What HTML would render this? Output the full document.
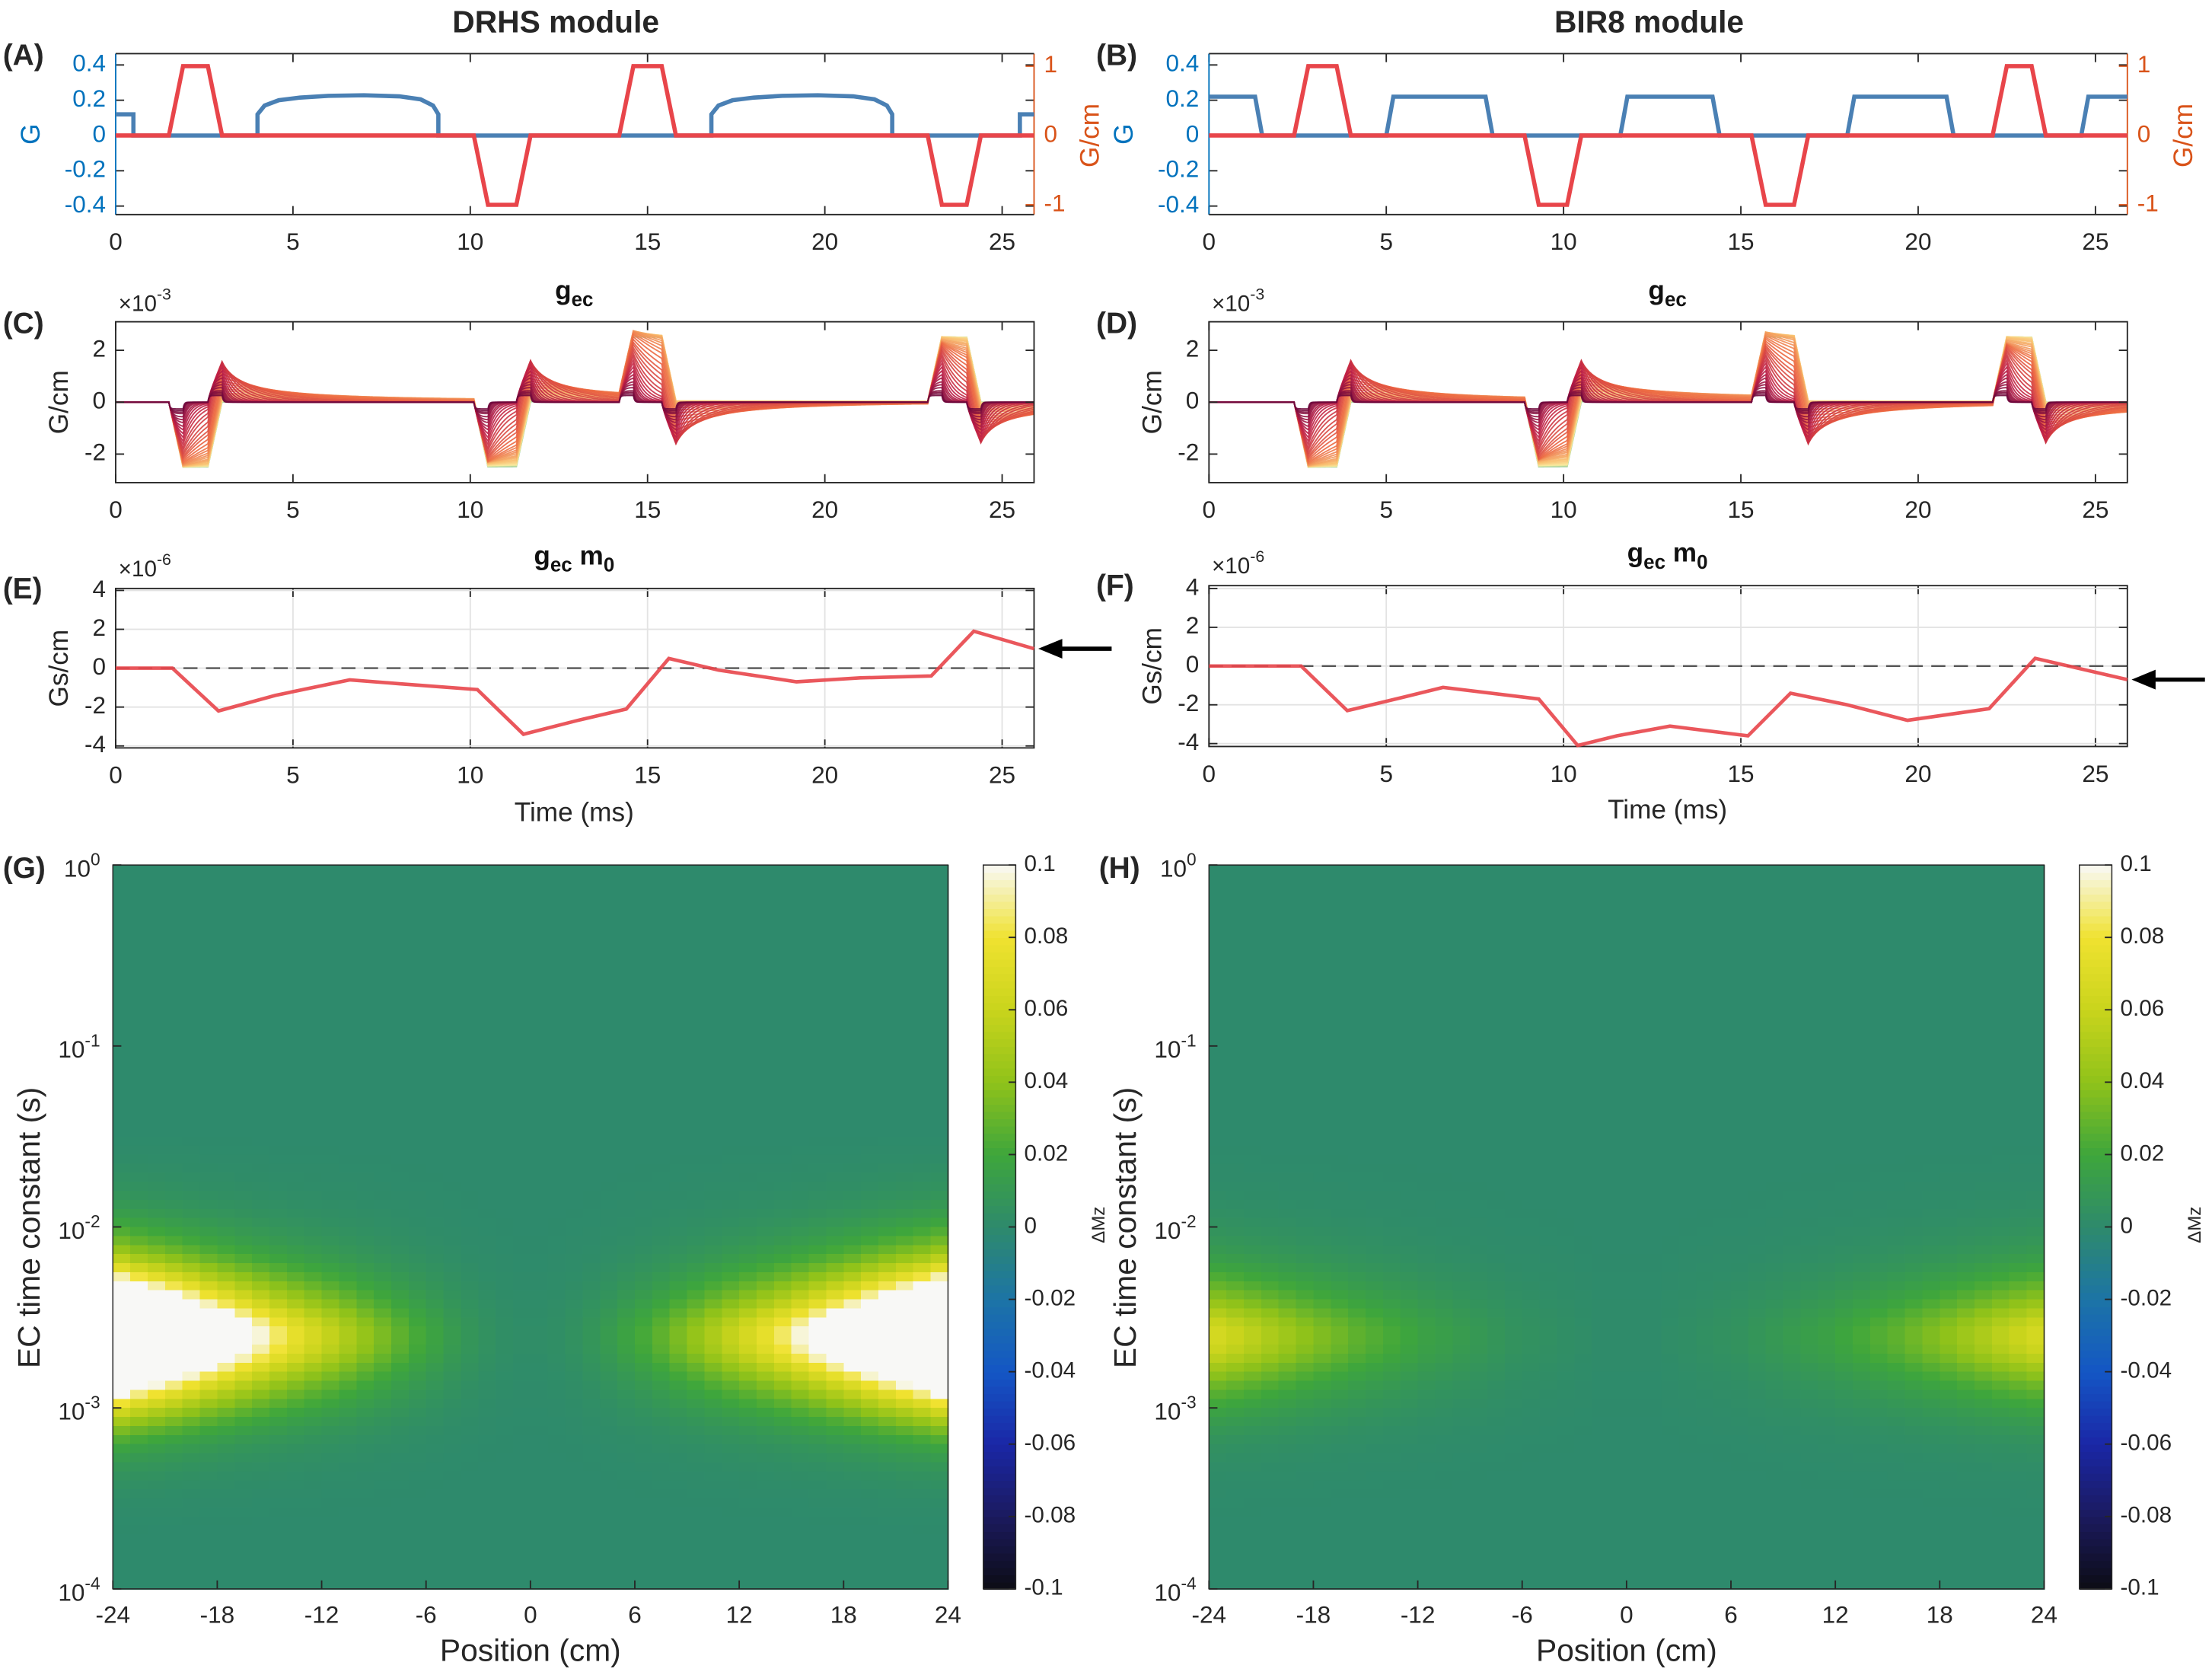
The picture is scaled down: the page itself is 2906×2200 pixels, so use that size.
<!DOCTYPE html>
<html><head><meta charset="utf-8"><style>
html,body{margin:0;padding:0;background:#fff;}
svg{display:block;font-family:"Liberation Sans",sans-serif;}
</style></head><body>
<svg id="fig" width="2906" height="2200" viewBox="0 0 1568 1187" xmlns="http://www.w3.org/2000/svg">
<rect x="0" y="0" width="1568" height="1187" fill="#fff"/>
</svg>
<script>
// ---------- data ----------
const xTicksTime = [0,5,10,15,20,25];
// Panel A waveforms (time ms, value)
const aBlueT = [0,0.5,0.5,4.0,4.0,4.2,4.6,5.2,6.0,7.0,8.0,8.6,8.95,9.1,9.1,16.8,16.8,17.0,17.4,18.0,18.8,19.8,20.8,21.4,21.75,21.9,21.9,25.5,25.5,25.9];
const aBlueV = [0.12,0.12,0,0,0.12,0.17,0.2,0.215,0.225,0.228,0.222,0.205,0.17,0.12,0,0,0.12,0.17,0.2,0.215,0.225,0.228,0.222,0.205,0.17,0.12,0,0,0.12,0.12];
const aRedT = [0,1.5,1.9,2.6,3.0,10.1,10.5,11.3,11.7,14.2,14.6,15.4,15.8,22.9,23.3,24.0,24.4,25.9];
const aRedV = [0,0,1,1,0,0,-1,-1,0,0,1,1,0,0,-1,-1,0,0];
// driving pattern for eddy currents in panel C
const cDriveV = [0,0,1,1,0,0,1,1,0,0,-1,-1,0,0,-1,-1,0,0];
// Panel B waveforms
const bBlueT = [0,1.3,1.5,5.0,5.2,7.8,8.0,11.6,11.8,14.2,14.4,18.0,18.2,20.8,21.0,24.6,24.8,25.9];
const bBlueV = [0.22,0.22,0,0,0.22,0.22,0,0,0.22,0.22,0,0,0.22,0.22,0,0,0.22,0.22];
const bRedT = [0,2.4,2.8,3.6,4.0,8.9,9.3,10.1,10.5,15.3,15.7,16.5,16.9,22.1,22.5,23.2,23.6,25.9];
const bRedV = [0,0,1,1,0,0,-1,-1,0,0,-1,-1,0,0,1,1,0,0];
const dDriveV = [0,0,1,1,0,0,1,1,0,0,-1,-1,0,0,-1,-1,0,0];
// eddy current time constants (ms) for bundles C/D
const ecTau = [0.03,0.04,0.05,0.06,0.08,0.1,0.12,0.15,0.18,0.22,0.27,0.33,0.4,0.5,0.6,0.75,0.9,1.1,1.3,1.6,2,2.5,3,3.7,4.5,5.5,7,8.5,10,13,16,20,25,32,40,55,70,100,150,300];
const ecAmp = 2.5; // x1e-3 G/cm per unit gradient
// Panel E / F (x1e-6 Gs/cm)
const eT = [0,1.6,2.9,4.5,6.6,8.0,10.2,11.5,13.0,14.4,15.6,17.0,19.2,21.0,23.0,24.2,25.9];
const eV = [0,0,-2.2,-1.4,-0.6,-0.8,-1.1,-3.4,-2.7,-2.1,0.5,-0.1,-0.7,-0.5,-0.4,1.9,1.0];
const fT = [0,2.6,3.9,5.5,6.6,9.3,10.4,11.5,13.0,15.2,16.4,18.0,19.7,22.0,23.3,25.9];
const fV = [0,0,-2.3,-1.6,-1.1,-1.7,-4.1,-3.6,-3.1,-3.6,-1.4,-2.0,-2.8,-2.2,0.4,-0.7];
// Heatmaps
const posTicks = [-24,-18,-12,-6,0,6,12,18,24];
const cbTicks = [0.1,0.08,0.06,0.04,0.02,0,-0.02,-0.04,-0.06,-0.08,-0.1];
// tau-profile at log10 centres -0.025 ... -3.975 (0.05 decade)
const tauProfile = [0,0,0,0,0,0,0,0,0,0,0,0,0,0,0,0,0,0,0,0,0,0,0,0,0,0,0,0,0,0,
 0.002,0.004,0.007,0.011,0.016,0.022,0.03,0.04,0.055,0.075,0.1,0.13,0.17,0.22,0.29,0.37,0.46,0.56,0.67,0.8,0.92,1.0,1.0,0.95,0.85,0.72,0.6,0.49,0.4,0.32,0.25,0.19,0.14,0.1,0.07,0.05,0.035,0.024,0.016,0.01,0.006,0.004,0.002,0.001,0,0,0,0,0,0];
// position-profile at |x| = 0.5 ... 23.5 cm
const posProfileG = [0.002,0.003,0.005,0.008,0.012,0.017,0.022,0.028,0.035,0.042,0.05,0.058,0.066,0.075,0.085,0.097,0.11,0.125,0.14,0.16,0.18,0.2,0.22,0.25];
const posProfileH = [0.001,0.001,0.002,0.003,0.004,0.005,0.006,0.008,0.01,0.012,0.014,0.016,0.019,0.022,0.025,0.028,0.032,0.036,0.04,0.045,0.05,0.055,0.06,0.065];
const cmapVals = [-0.1,-0.08,-0.06,-0.04,-0.02,0,0.02,0.04,0.06,0.08,0.1];
const cmapCols = ['#0c0c14','#1b1a5e','#1a27a6','#1456c4','#1c74a6','#2e8a6c','#3ea63c','#8fc21a','#c9d41c','#f0e230','#f8f8f6'];

// ---------- helpers ----------
const NS='http://www.w3.org/2000/svg';
const svg=document.getElementById('fig');
function el(tag,attrs,parent){const e=document.createElementNS(NS,tag);for(const k in attrs)e.setAttribute(k,attrs[k]);(parent||svg).appendChild(e);return e;}
function nm(e,name){


return e;}
function txt(x,y,s,o,name){o=o||{};const t=el('text',{x:x,y:y,'font-size':o.size||16,'text-anchor':o.anchor||'middle',fill:o.fill||'#262626','font-weight':o.weight||'normal'});
if(o.rot)t.setAttribute('transform','rotate('+o.rot+' '+x+' '+y+')');
if(o.db)t.setAttribute('dominant-baseline',o.db);
t.textContent=s;return nm(t,name);}
function supTxt(x,y,base,sup,o,name){o=o||{};const t=el('text',{x:x,y:y,'font-size':o.size||16,'text-anchor':o.anchor||'end',fill:'#262626','dominant-baseline':'middle'});
const a=el('tspan',{},t);a.textContent=base;const b=el('tspan',{dy:-7,'font-size':(o.size||16)*0.72},t);b.textContent=sup;return nm(t,name);}
function lin(d0,d1,p0,p1){return v=>p0+(v-d0)/(d1-d0)*(p1-p0);}
function interp(T,V,t){for(let i=1;i<T.length;i++){if(t<=T[i]){const d=T[i]-T[i-1];return d<=0?V[i]:V[i-1]+(V[i]-V[i-1])*(t-T[i-1])/d;}}return V[V.length-1];}

function axesBox(p,prefix){
  const g=nm(el('g',{}),prefix+'-axes');
  nm(el('rect',{x:p.x0,y:p.y0,width:p.x1-p.x0,height:p.y1-p.y0,fill:'none',stroke:'#262626','stroke-width':1},g),prefix+'-box');
  return g;
}
function xTicks(p,X,ticks,prefix,grid){
  ticks.forEach(v=>{const x=X(v);
    if(grid) nm(el('line',{x1:x,x2:x,y1:p.y0,y2:p.y1,stroke:'#e3e3e3','stroke-width':1}),prefix+'-xgrid');
    nm(el('line',{x1:x,x2:x,y1:p.y1,y2:p.y1-6,stroke:'#262626'}),prefix+'-xtick');
    nm(el('line',{x1:x,x2:x,y1:p.y0,y2:p.y0+6,stroke:'#262626'}),prefix+'-xtick-top');
    txt(x,p.y1+25,String(v),{size:17},prefix+'-xtick-label');});
}
function yTicks(p,Y,ticks,prefix,color,grid,right){
  ticks.forEach(v=>{const y=Y(v);
    if(grid) nm(el('line',{x1:p.x0,x2:p.x1,y1:y,y2:y,stroke:'#e3e3e3','stroke-width':1}),prefix+'-ygrid');
    if(!right){
      nm(el('line',{x1:p.x0,x2:p.x0+6,y1:y,y2:y,stroke:'#262626'}),prefix+'-ytick');
      nm(el('line',{x1:p.x1,x2:p.x1-6,y1:y,y2:y,stroke:'#262626'}),prefix+'-ytick-right');
      txt(p.x0-7,y,String(v),{size:17,anchor:'end',db:'middle',fill:color},prefix+'-ytick-label');
    } else {
      nm(el('line',{x1:p.x1,x2:p.x1-6,y1:y,y2:y,stroke:'#d95319'}),prefix+'-ytick');
      txt(p.x1+7,y,String(v),{size:17,anchor:'start',db:'middle',fill:color},prefix+'-ytick-label');
    }});
}
function polyline(T,V,X,Y,attrs,name){const pts=T.map((t,i)=>X(t).toFixed(2)+','+Y(V[i]).toFixed(2)).join(' ');
  const a=Object.assign({points:pts,fill:'none'},attrs);return nm(el('polyline',a),name);}

// ---------- Top waveform panels ----------
function waveformPanel(x0,label,title,blueT,blueV,redT,redV,prefix){
  const p={x0:x0,x1:x0+651,y0:38,y1:152};
  const X=lin(0,25.9,p.x0,p.x1), Y=lin(-0.448,0.464,p.y1,p.y0), YR=lin(-1.14,1.18,p.y1,p.y0);
  nm(el('rect',{x:p.x0,y:p.y0,width:651,height:114,fill:'#fff'}),prefix+'-plot-area');
  xTicks(p,X,xTicksTime,prefix,false);
  yTicks(p,Y,[0.4,0.2,0,-0.2,-0.4],prefix,'#0072bd',false,false);
  yTicks(p,YR,[1,0,-1],prefix+'-right','#d95319',false,true);
  nm(el('line',{x1:p.x0,x2:p.x0,y1:p.y0,y2:p.y1,stroke:'#0072bd'}),prefix+'-left-axis');
  nm(el('line',{x1:p.x1,x2:p.x1,y1:p.y0,y2:p.y1,stroke:'#d95319'}),prefix+'-right-axis');
  nm(el('line',{x1:p.x0,x2:p.x1,y1:p.y0,y2:p.y0,stroke:'#262626'}),prefix+'-top-axis');
  nm(el('line',{x1:p.x0,x2:p.x1,y1:p.y1,y2:p.y1,stroke:'#262626'}),prefix+'-bottom-axis');
  polyline(blueT,blueV,X,Y,{stroke:'#4a80b4','stroke-width':3},prefix+'-blue-gradient-line');
  polyline(redT,redV,X,YR,{stroke:'#e8454a','stroke-width':3},prefix+'-red-gradient-line');
  txt(x0-54,p.y0+57,'G',{size:19,fill:'#0072bd',rot:-90},prefix+'-y-axis-title');
  txt(p.x1+46,96,'G/cm',{size:19,fill:'#d95319',rot:-90},prefix+'-y-axis-title-right');
  txt(x0-80,46,label,{size:21,weight:'bold',anchor:'start'},prefix+'-panel-label');
  txt(x0+312,23,title,{size:22,weight:'bold'},prefix+'-title');
}
waveformPanel(82,'(A)','DRHS module',aBlueT,aBlueV,aRedT,aRedV,'panel-a');
waveformPanel(857,'(B)','BIR8 module',bBlueT,bBlueV,bRedT,bRedV,'panel-b');

// ---------- eddy current bundles ----------
function tauColor(i,n){const stops=[[0,[110,8,60]],[0.25,[190,30,70]],[0.5,[235,100,65]],[0.75,[248,190,110]],[0.9,[248,235,160]],[1,[140,200,150]]];
  const f=i/(n-1);for(let k=1;k<stops.length;k++){if(f<=stops[k][0]){const a=stops[k-1],b=stops[k];const u=(f-a[0])/(b[0]-a[0]);
  return 'rgb('+a[1].map((c,j)=>Math.round(c+(b[1][j]-c)*u)).join(',')+')';}}return 'rgb(140,200,150)';}
function ecPanel(x0,label,driveT,driveV,prefix){
  const p={x0:x0,x1:x0+651,y0:228,y1:342};
  const X=lin(0,25.9,p.x0,p.x1), Y=lin(-3.1,3.1,p.y1,p.y0);
  const g=nm(el('g',{}),prefix+'-curves');
  const dt=0.02;
  for(let k=ecTau.length-1;k>=0;k--){
    const tau=ecTau[k];let y=0,prev=interp(driveT,driveV,0);const T=[],V=[];
    for(let t=0;t<=25.9+1e-9;t+=dt){const G=interp(driveT,driveV,t);y=y*Math.exp(-dt/tau)+(G-prev);prev=G;T.push(t);V.push(-ecAmp*y);}
    const pl=polyline(T,V,X,Y,{stroke:tauColor(k,ecTau.length),'stroke-width':1,'stroke-opacity':0.9},prefix+'-ec-curve');
    g.appendChild(pl);
  }
  axesBox(p,prefix);
  xTicks(p,X,xTicksTime,prefix,false);
  yTicks(p,Y,[2,0,-2],prefix,'#262626',false,false);
  txt(x0-34,285,'G/cm',{size:19,rot:-90},prefix+'-y-axis-title');
  supTxt(x0+2,216,'\u00d710','-3',{size:16,anchor:'start'},prefix+'-exponent');
  const t=el('text',{x:x0+325,y:212,'font-size':19,'font-weight':'bold','text-anchor':'middle',fill:'#111'});
  const a=el('tspan',{},t);a.textContent='g';const b=el('tspan',{dy:5,'font-size':14},t);b.textContent='ec';nm(t,prefix+'-title');
  txt(x0-80,236,label,{size:21,weight:'bold',anchor:'start'},prefix+'-panel-label');
}
ecPanel(82,'(C)',aRedT,cDriveV,'panel-c');
ecPanel(857,'(D)',bRedT,dDriveV,'panel-d');

// ---------- gec m0 ----------
function m0Panel(x0,y0,y1,ym,label,T,V,prefix,titleX,timeY){
  const p={x0:x0,x1:x0+651,y0:y0,y1:y1};
  const X=lin(0,25.9,p.x0,p.x1), Y=lin(-ym,ym,p.y1,p.y0);
  xTicks(p,X,xTicksTime,prefix,true);
  yTicks(p,Y,[4,2,0,-2,-4],prefix,'#262626',true,false);
  axesBox(p,prefix);
  nm(el('line',{x1:p.x0,x2:p.x1,y1:Y(0),y2:Y(0),stroke:'#555','stroke-width':1.3,'stroke-dasharray':'10,6'}),prefix+'-zero-dashed-line');
  polyline(T,V,X,Y,{stroke:'#e8454a','stroke-width':2.5,'stroke-opacity':0.9},prefix+'-gec-m0-line');
  txt(x0-34,(y0+y1)/2,'Gs/cm',{size:19,rot:-90},prefix+'-y-axis-title');
  supTxt(x0+2,y0-13,'\u00d710','-6',{size:16,anchor:'start'},prefix+'-exponent');
  const t=el('text',{x:x0+titleX,y:y0-17,'font-size':19,'font-weight':'bold','text-anchor':'middle',fill:'#111'});
  const a=el('tspan',{},t);a.textContent='g';const b=el('tspan',{dy:5,'font-size':14},t);b.textContent='ec';
  const c=el('tspan',{dy:-5},t);c.textContent=' m';const d=el('tspan',{dy:5,'font-size':14},t);d.textContent='0';nm(t,prefix+'-title');
  txt(x0+325,timeY,'Time (ms)',{size:19},prefix+'-x-axis-title');
  txt(x0-80,y0+7,label,{size:21,weight:'bold',anchor:'start'},prefix+'-panel-label');
  const ay=Y(V[V.length-1]);
  nm(el('line',{x1:p.x1+55,x2:p.x1+16,y1:ay,y2:ay,stroke:'#000','stroke-width':3}),prefix+'-arrow-shaft');
  nm(el('polygon',{points:(p.x1+3)+','+ay+' '+(p.x1+20)+','+(ay-7)+' '+(p.x1+20)+','+(ay+7),fill:'#000'}),prefix+'-arrow-head');
}
m0Panel(82,417,530,4.1,'(E)',eT,eV,'panel-e',325,582);
m0Panel(857,415,529,4.15,'(F)',fT,fV,'panel-f',325,580);

// ---------- heatmaps ----------
function cmap(v){if(v<=cmapVals[0])return cmapCols[0];if(v>=cmapVals[cmapVals.length-1])return cmapCols[cmapCols.length-1];
  for(let i=1;i<cmapVals.length;i++){if(v<=cmapVals[i]){const u=(v-cmapVals[i-1])/(cmapVals[i]-cmapVals[i-1]);
  const a=hex(cmapCols[i-1]),b=hex(cmapCols[i]);return 'rgb('+a.map((c,j)=>Math.round(c+(b[j]-c)*u)).join(',')+')';}}}
function hex(h){return [1,3,5].map(i=>parseInt(h.substr(i,2),16));}
function heatPanel(x0,label,posProfile,prefix){
  const p={x0:x0,x1:x0+592,y0:613,y1:1126};
  const X=lin(-24,24,p.x0,p.x1), Y=lin(-4,0,p.y1,p.y0);
  const g=nm(el('g',{'shape-rendering':'crispEdges'}),prefix+'-heatmap-cells');
  tauProfile.forEach((fv,r)=>{const lt=-0.025-0.05*r;
    for(let c=0;c<48;c++){const xc=-23.5+c;const gv=posProfile[Math.floor(Math.abs(xc))];
      const val=Math.min(0.1,fv*gv);
      const rc=el('rect',{x:X(xc-0.5).toFixed(2),y:Y(lt+0.025).toFixed(2),width:(X(1)-X(0)+0.6).toFixed(2),height:(Y(-0.05)-Y(0)+0.6).toFixed(2),fill:cmap(val)},g);
      
      }});
  posTicks.forEach(v=>{txt(X(v),p.y1+24,String(v),{size:17},prefix+'-xtick-label');
    nm(el('line',{x1:X(v),x2:X(v),y1:p.y1,y2:p.y1-6,stroke:'#262626'}),prefix+'-xtick');});
  [0,-1,-2,-3,-4].forEach(v=>{supTxt(p.x0-9,Y(v)+4,'10',String(v),{size:17,anchor:'end'},prefix+'-ytick-label');
    nm(el('line',{x1:p.x0,x2:p.x0+6,y1:Y(v),y2:Y(v),stroke:'#262626'}),prefix+'-ytick');});
  nm(el('rect',{x:p.x0,y:p.y0,width:592,height:513,fill:'none',stroke:'#262626','stroke-width':0.8}),prefix+'-box');
  txt(x0+296,1177,'Position (cm)',{size:22},prefix+'-x-axis-title');
  txt(x0-52,870,'EC time constant (s)',{size:22,rot:-90},prefix+'-y-axis-title');
  txt(x0-78,622,label,{size:21,weight:'bold',anchor:'start'},prefix+'-panel-label');
  // colorbar
  const cx=x0+617, CY=lin(-0.1,0.1,p.y1,p.y0);
  const cg=nm(el('g',{'shape-rendering':'crispEdges'}),prefix+'-colorbar');
  for(let i=0;i<100;i++){const v=-0.1+i*0.002;const r=el('rect',{x:cx,y:CY(v+0.002),width:23,height:(CY(0)-CY(0.002)+0.5),fill:cmap(v+0.001)},cg);
    
    }
  nm(el('rect',{x:cx,y:p.y0,width:23,height:513,fill:'none',stroke:'#262626','stroke-width':0.8}),prefix+'-colorbar-box');
  cbTicks.forEach(v=>{nm(el('line',{x1:cx+23,x2:cx+18,y1:CY(v),y2:CY(v),stroke:'#262626'}),prefix+'-colorbar-tick');
    txt(cx+29,CY(v),String(v),{size:16,anchor:'start',db:'middle'},prefix+'-colorbar-label');});
  txt(cx+86,868,'\u0394Mz',{size:13,rot:-90},prefix+'-colorbar-title');
}
heatPanel(80,'(G)',posProfileG,'panel-g');
heatPanel(857,'(H)',posProfileH,'panel-h');
</script>
</body></html>
